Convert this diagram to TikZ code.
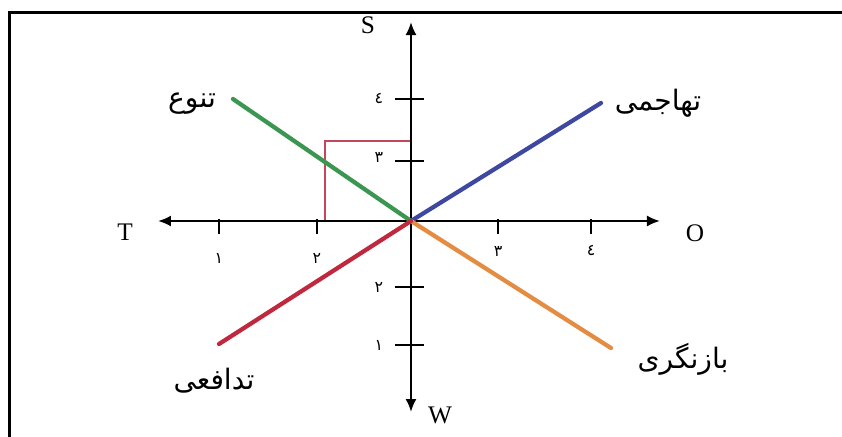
\documentclass[tikz,border=0pt]{standalone}
\usepackage{fontspec}
\setmainfont{Liberation Serif}
\newfontfamily\arabicfont[Script=Arabic]{DejaVu Sans}
\TeXXeTstate=1
\usetikzlibrary{arrows.meta}
\definecolor{tgreen}{RGB}{58,150,80}
\definecolor{tblue}{RGB}{62,72,160}
\definecolor{tred}{RGB}{192,40,62}
\definecolor{torange}{RGB}{228,140,66}
\definecolor{tbox}{RGB}{196,70,90}
\newcommand{\fa}[1]{{\arabicfont\beginR #1\endR}}
\newcommand{\fanum}[1]{\fa{\ifcase#1\or ١\or ٢\or ٣\or ٤\fi}}
\tikzset{
  axis/.style={line width=.4mm,<->},
  ray/.style={line width=.85mm,line cap=round},
  tick/.style={line width=.3mm},
  num/.style={font=\arabicfont\small,inner sep=1pt},
  word/.style={font=\arabicfont\fontsize{16}{19}\selectfont,inner sep=1pt},
  let/.style={font=\Large,inner sep=1pt}
}

\begin{document}
\begin{tikzpicture}[x=.2mm,y=.2mm,>={Latex[length=2.6mm,width=2.2mm]}]
  \useasboundingbox (-411,-215) rectangle (431,221);
  \draw[line width=.6mm] (-401,-230) -- (-401,209) -- (445,209);
  % axes
  \coordinate (o) at (0,0);
  \coordinate (top) at (0,199);
  \coordinate (bot) at (0,-191);
  \coordinate (lft) at (-253,0);
  \coordinate (rgt) at (249,0);
  \draw[tbox,line width=.25mm] (-86,0) |- (0,80);
  \draw[axis] (lft) -- (rgt);
  \draw[axis] (bot) -- (top);
  \node[let] (s) at (-43,196) {S};
  \node[let] (w) at (29,-194) {W};
  \node[let] (t) at (-286,-11) {T};
  \node[let] (e) at (284,-12) {O};
  % ticks
  \foreach \x/\n/\yl in {-192/1/-37,-94/2/-37,87/3/-30,180/4/-30} {
    \draw[tick] (\x,2) -- (\x,-13);
    \node[num] at (\x,\yl) {\fanum{\n}};
  }
  \foreach \y/\n/\yl in {122/4/122,60/3/64,-66/2/-66,-124/1/-124} {
    \draw[tick] (-16,\y) -- (13,\y);
    \node[num] at (-32,\yl) {\fanum{\n}};
  }
  % strategies
  \coordinate (g) at (-178,122);
  \coordinate (b) at (190,118);
  \coordinate (r) at (-192,-123);
  \coordinate (y) at (200,-127);
  \draw[ray,tgreen] (o) -- (g);
  \draw[ray,tblue] (o) -- (b);
  \draw[ray,torange] (o) -- (y);
  \draw[ray,tred] (o) -- (r);
  \node[word] (div) at (-219,117) {\fa{تنوع}};
  \node[word] (agg) at (247,118) {\fa{تهاجمی}};
  \node[word] (def) at (-197,-160) {\fa{تدافعی}};
  \node[word] (rev) at (272,-138) {\fa{بازنگری}};
\end{tikzpicture}
\end{document}
